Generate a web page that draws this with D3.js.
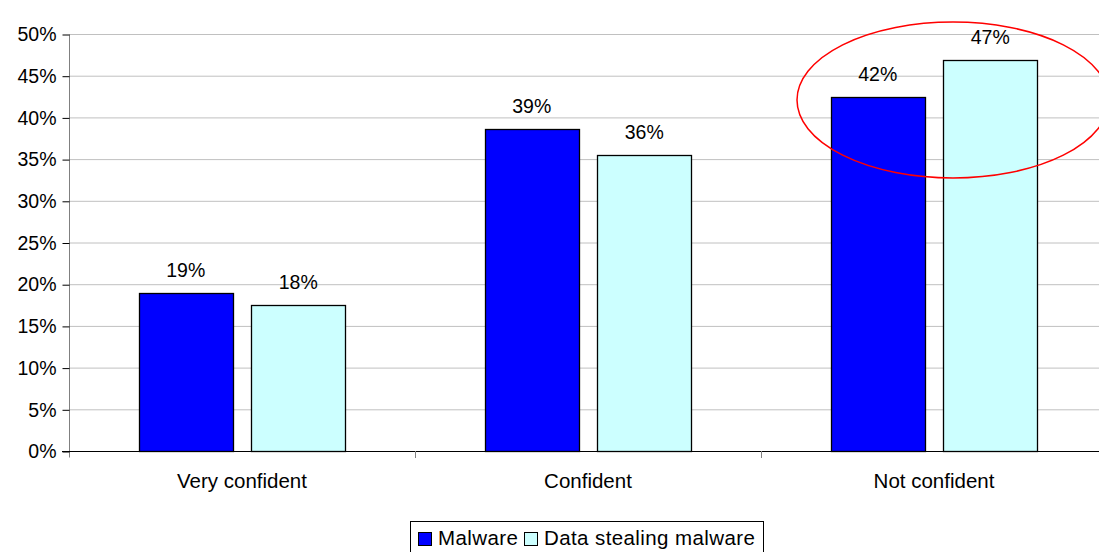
<!DOCTYPE html>
<html>
<head>
<meta charset="utf-8">
<style>
  body { margin: 0; background: #fff; }
  text { font-family: "Liberation Sans", Arial, sans-serif; fill: #000; }
</style>
</head>
<body>
<svg id="chart" width="1099" height="552"></svg>
<script src="https://d3js.org/d3.v7.min.js"></script>
<script>
var categories = ["Very confident", "Confident", "Not confident"];
var seriesNames = ["Malware", "Data stealing malware"];
var malware = [18.9, 38.6, 42.4];
var dataStealing = [17.5, 35.5, 46.9];
var labelsMalware = ["19%", "39%", "42%"];
var labelsStealing = ["18%", "36%", "47%"];
var yTicks = [0, 5, 10, 15, 20, 25, 30, 35, 40, 45, 50];
var colors = ["#0000ff", "#ccffff"];

var svg = d3.select("#chart"),
    margin = {top: 34, left: 69},
    plotRight = 1107,
    plotBottom = 451;

var x = d3.scaleBand()
    .domain(categories)
    .range([margin.left, plotRight]);

var y = d3.scaleLinear()
    .domain([0, 50])
    .range([plotBottom, margin.top]);

// gridlines
svg.append("g")
  .selectAll("line")
  .data(yTicks.filter(d => d > 0))
  .enter().append("line")
    .attr("x1", margin.left)
    .attr("x2", plotRight)
    .attr("y1", d => y(d) + 0.5)
    .attr("y2", d => y(d) + 0.5)
    .attr("stroke", "#c0c0c0")
    .attr("stroke-width", 1);

// y axis
var yAxis = svg.append("g")
  .attr("transform", "translate(" + (margin.left + 0.5) + ",0.5)")
  .call(d3.axisLeft(y).tickValues(yTicks).tickSize(7).tickPadding(6).tickFormat(d => d + "%"));
yAxis.select(".domain").attr("stroke", "#808080").attr("d", "M0," + (plotBottom + 6) + "V" + margin.top);
yAxis.selectAll(".tick line").attr("stroke", "#000");
yAxis.selectAll("text").style("font-size", "19.5px").attr("font-family", null);

// bars
var inner = d3.scaleBand()
    .domain(seriesNames)
    .range([0, x.bandwidth()])
    .paddingInner(0.162)
    .paddingOuter(0.62);

var series = [malware, dataStealing];
var labels = [labelsMalware, labelsStealing];

series.forEach(function(vals, si) {
  var g = svg.append("g");
  g.selectAll("rect")
    .data(vals)
    .enter().append("rect")
      .attr("x", (d, i) => Math.round(x(categories[i]) + inner(seriesNames[si])) + 0.5)
      .attr("y", d => Math.round(y(d)) + 0.5)
      .attr("width", Math.round(inner.bandwidth()))
      .attr("height", d => Math.round(plotBottom - y(d)))
      .attr("fill", colors[si])
      .attr("stroke", "#000")
      .attr("stroke-width", 1.3);
  g.selectAll("text")
    .data(vals)
    .enter().append("text")
      .attr("x", (d, i) => x(categories[i]) + inner(seriesNames[si]) + inner.bandwidth() / 2)
      .attr("y", d => y(d) - 16)
      .attr("text-anchor", "middle")
      .style("font-size", "19.5px")
      .text((d, i) => labels[si][i]);
});

// x axis
var xAxisG = svg.append("g");
xAxisG.append("line")
  .attr("x1", margin.left - 7).attr("x2", plotRight)
  .attr("y1", plotBottom + 0.5).attr("y2", plotBottom + 0.5)
  .attr("stroke", "#000");
xAxisG.selectAll("line.sep")
  .data(categories)
  .enter().append("line")
    .attr("class", "sep")
    .attr("x1", d => x(d) + x.bandwidth() + 0.5)
    .attr("x2", d => x(d) + x.bandwidth() + 0.5)
    .attr("y1", plotBottom)
    .attr("y2", plotBottom + 7)
    .attr("stroke", "#808080");
xAxisG.selectAll("text")
  .data(categories)
  .enter().append("text")
    .attr("x", d => x(d) + x.bandwidth() / 2)
    .attr("y", plotBottom + 37)
    .attr("text-anchor", "middle")
    .style("font-size", "20.5px")
    .text(d => d);

// highlight ellipse
svg.append("ellipse")
  .attr("cx", x("Not confident") + x.bandwidth() / 2 + 19)
  .attr("cy", 100)
  .attr("rx", 156)
  .attr("ry", 78)
  .attr("fill", "none")
  .attr("stroke", "#ff0000")
  .attr("stroke-width", 1.5);

// legend
var legend = svg.append("g").attr("transform", "translate(410,521)");
legend.append("rect")
  .attr("x", 0.5).attr("y", 0.5)
  .attr("width", 353).attr("height", 40)
  .attr("fill", "#fff")
  .attr("stroke", "#000");
var legendX = [8, 114];
seriesNames.forEach(function(name, i) {
  legend.append("rect")
    .attr("x", legendX[i] + 0.5).attr("y", 11.5)
    .attr("width", 13).attr("height", 13)
    .attr("fill", colors[i])
    .attr("stroke", "#000");
  legend.append("text")
    .attr("x", legendX[i] + 20)
    .attr("y", 24)
    .style("font-size", "20.5px")
    .style("letter-spacing", "0.4px")
    .text(name);
});
</script>
</body>
</html>
